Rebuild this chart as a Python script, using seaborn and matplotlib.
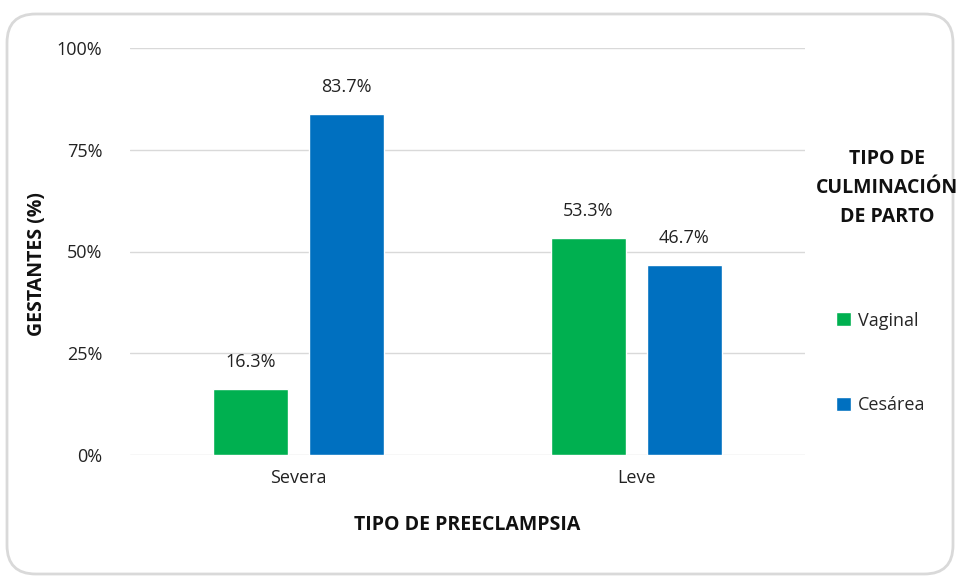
import matplotlib
matplotlib.use("Agg")
import matplotlib.pyplot as plt
import seaborn as sns
import pandas as pd
from matplotlib.patches import FancyBboxPatch, Patch
from matplotlib.ticker import FuncFormatter

categories = ["Severa", "Leve"]
series = ["Vaginal", "Cesárea"]
vaginal = [16.3, 53.3]
cesarea = [83.7, 46.7]
colors = ["#00B050", "#0070C0"]
yticks = [0, 25, 50, 75, 100]

rows = []
for c, v, s in zip(categories, vaginal, cesarea):
    rows.append({"cat": c, "tipo": series[0], "val": v})
    rows.append({"cat": c, "tipo": series[1], "val": s})
df = pd.DataFrame(rows)

sns.set_theme(style="white")
plt.rcParams['font.family'] = ['Open Sans', 'DejaVu Sans']

fig = plt.figure(figsize=(9.57, 5.81), dpi=100)
ax = fig.add_axes([130/957, 1-455/581, (805-130)/957, (455-48)/581])

sns.barplot(data=df, x="cat", y="val", hue="tipo", order=categories,
            hue_order=series, palette=colors, width=0.57, gap=0.22,
            saturation=1, ax=ax, legend=False)

for cont in ax.containers:
    ax.bar_label(cont, labels=[f"{b.get_height():.1f}%" for b in cont],
                 padding=13, fontsize=13, color="#222222")

ax.set_ylim(0, 100)
ax.set_xlim(-0.5, 1.5)
ax.set_yticks(yticks)
ax.yaxis.set_major_formatter(FuncFormatter(lambda v, p: f"{int(v)}%"))
ax.grid(axis="y", color="#D9D9D9", linewidth=1)
ax.set_axisbelow(True)
for s in ax.spines.values():
    s.set_visible(False)
ax.tick_params(axis="both", length=0, labelsize=13, colors="#222222")
ax.tick_params(axis="y", pad=20)
ax.tick_params(axis="x", pad=10)
ax.set_xlabel("TIPO DE PREECLAMPSIA", fontsize=14, fontweight="bold",
              labelpad=20, color="#111111")
ax.set_ylabel("GESTANTES (%)", fontsize=14, fontweight="bold",
              color="#111111")
ax.yaxis.set_label_coords(-0.123, 0.47)

fig.text(887/957, 1-188/581, "TIPO DE\nCULMINACIÓN\nDE PARTO", ha="center",
         va="center", fontsize=14, fontweight="bold", linespacing=1.6,
         color="#111111")
handles = [Patch(facecolor=c, label=l) for c, l in zip(colors, series)]
fig.legend(handles=handles, loc="center left",
           bbox_to_anchor=(820/957, 1-363/581), frameon=False,
           fontsize=13, handlelength=0.8, handleheight=0.8,
           handletextpad=0.4, labelspacing=3.7)

box = FancyBboxPatch((7/957, 7/581), 946/957, 560/581,
                     boxstyle="round,pad=0,rounding_size=0.03",
                     transform=fig.transFigure, facecolor="none",
                     edgecolor="#D9D9D9", linewidth=2, mutation_aspect=957/581)
fig.patches.append(box)

fig.savefig("out.png", dpi=100)
